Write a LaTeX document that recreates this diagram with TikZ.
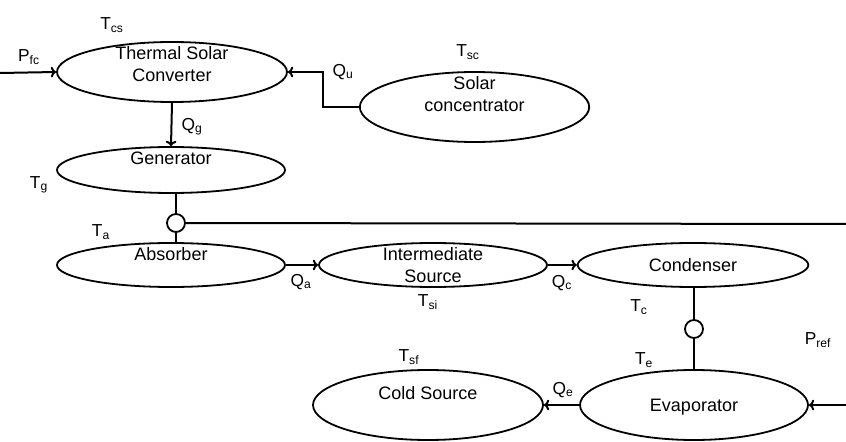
\documentclass[tikz,border=0pt]{standalone}
\usepackage{fontspec}
\setmainfont{Liberation Sans}
\usetikzlibrary{shapes.geometric,arrows.meta}

\tikzset{
  unit/.style={draw, ellipse, line width=1.35pt, inner sep=0pt},
  junction/.style={draw, circle, line width=1.35pt, inner sep=0pt, minimum size=13.5pt, fill=white},
  txt/.style={inner sep=0.75pt, align=center, font=\fontsize{13.5}{16.5}\selectfont},
  lbl/.style={inner sep=0.75pt, font=\fontsize{13}{14}\selectfont},
  flow/.style={line width=1.5pt, -{To[length=4pt,width=8pt]}},
  link/.style={line width=1.5pt}
}

\begin{document}
\begin{tikzpicture}[x=0.75pt,y=0.75pt,yscale=-1]
\useasboundingbox (0,0) rectangle (846,442);

%Shapes: Ellipses
\node[unit, minimum width=172.5pt, minimum height=45pt] (tsc) at (172,72) {};
\node[unit, minimum width=172pt, minimum height=52.5pt] (sc) at (474.5,107) {};
\node[unit, minimum width=171pt, minimum height=34.5pt] (gen) at (171,170) {};
\node[unit, minimum width=171pt, minimum height=33pt] (abs) at (171,265) {};
\node[unit, minimum width=171pt, minimum height=33pt] (is) at (433,265) {};
\node[unit, minimum width=173pt, minimum height=33pt] (cond) at (693,265) {};
\node[unit, minimum width=171pt, minimum height=52.5pt] (evap) at (694,405) {};
\node[unit, minimum width=172.5pt, minimum height=52.5pt] (cold) at (428,405) {};

%Shapes: Circles
\node[junction] (jga) at (176,223) {};
\node[junction] (jce) at (694,329) {};

% Text Nodes
\node[txt] (tsctext) at (172,64) {Thermal Solar\\Converter};
\node[txt] (sctext) at (474.5,94) {Solar\\concentrator};
\node[txt] (gentext) at (171,158) {Generator};
\node[txt] (abstext) at (171,254) {Absorber};
\node[txt] (istext) at (433,265) {Intermediate\\Source};
\node[txt] (condtext) at (693,265) {Condenser};
\node[txt] (evaptext) at (694,407) {Evaporator};
\node[txt] (coldtext) at (428,393) {Cold Source};

%Free ends
\coordinate (pfcin) at (0,73);
\coordinate (prefin) at (846,405);
\coordinate (jgaout) at (846,224);
\coordinate (qbend) at (323,107);

%Straight Lines
\draw[flow] (pfcin) -- (tsc.west);
\draw[flow] (sc.west) -- (qbend) |- (tsc.east);
\draw[flow] (tsc.south) -- (gen.north);
\draw[link] (jga |- gen.south) -- (jga.north);
\draw[link] (jga.south) -- (jga |- abs.north);
\draw[link] (jga.east) -- (jgaout);
\draw[flow] (abs.east) -- (is.west);
\draw[flow] (is.east) -- (cond.west);
\draw[link] (jce |- cond.south) -- (jce.north);
\draw[link] (jce.south) -- (evap.north);
\draw[flow] (evap.west) -- (cold.east);
\draw[flow] (prefin) -- (evap.east);

% Labels
\node[lbl] (tcs) at (112,25) {T\textsubscript{cs}};
\node[lbl] (pfc) at (29,57) {P\textsubscript{fc}};
\node[lbl] (qg) at (192,127) {Q\textsubscript{g}};
\node[lbl] (qu) at (343,72) {Q\textsubscript{u}};
\node[lbl] (tsc-t) at (468,52) {T\textsubscript{sc}};
\node[lbl] (tg) at (39,185) {T\textsubscript{g}};
\node[lbl] (ta) at (101,232) {T\textsubscript{a}};
\node[lbl] (qa) at (301,282) {Q\textsubscript{a}};
\node[lbl] (tsi) at (428,302) {T\textsubscript{si}};
\node[lbl] (qc) at (562,283) {Q\textsubscript{c}};
\node[lbl] (tc) at (639,307) {T\textsubscript{c}};
\node[lbl] (te) at (644,360) {T\textsubscript{e}};
\node[lbl] (pref) at (818,340) {P\textsubscript{ref}};
\node[lbl] (qe) at (563,390) {Q\textsubscript{e}};
\node[lbl] (tsf) at (409,357) {T\textsubscript{sf}};

\end{tikzpicture}
\end{document}
